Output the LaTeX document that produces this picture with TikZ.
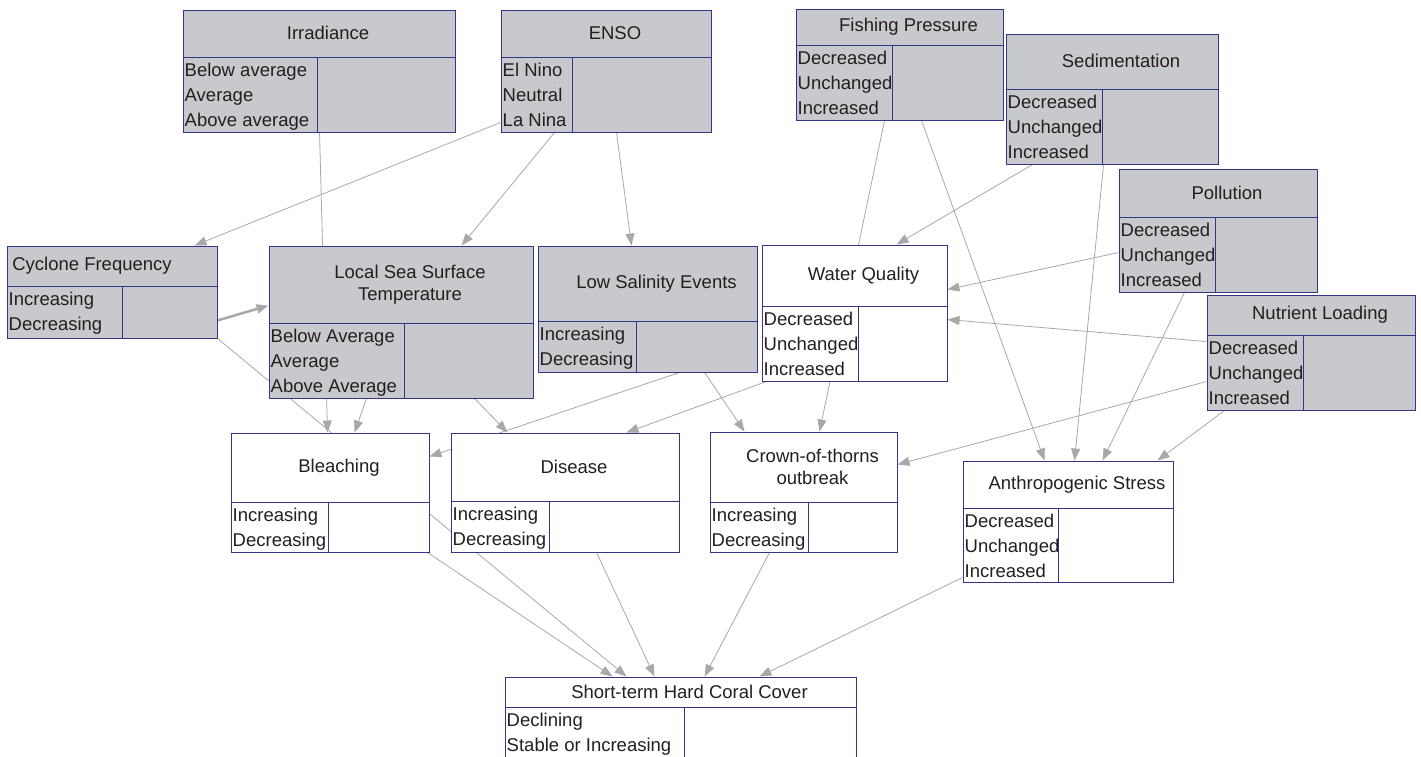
\documentclass[tikz,border=0pt]{standalone}
\usepackage{fontspec}
\setmainfont{Liberation Sans}
\usetikzlibrary{arrows.meta,fit,calc,backgrounds}

\definecolor{boxgray}{RGB}{200,201,204}
\definecolor{boxblue}{RGB}{52,52,136}
\definecolor{linkgray}{RGB}{168,168,170}
\definecolor{textgray}{RGB}{35,31,32}

\tikzset{
  cpt/.style={draw=boxblue, line width=0.95pt, inner sep=0pt},
  cptrule/.style={draw=boxblue, line width=0.95pt},
  cpttitle/.style={text=textgray, align=center, font=\fontsize{18.5}{22}\selectfont},
  cptstates/.style={anchor=north west, align=left, inner xsep=2pt, inner ysep=5.5pt,
    text=textgray, font=\fontsize{18.5}{25}\selectfont},
  link/.style={draw=linkgray, line width=0.8pt, -{Triangle[length=12pt,width=9pt]}},
}

% #2 name, #3 top left, #4 bottom right, #5 header y, #6 divider x, #7 fill, #8 title, #9 states
\newcommand{\cptbox}[9][xshift=9pt]{%
  \node[cpt, fill=#7, fit={#3 #4}] (#2) {};
  \draw[cptrule] (#2.west |- 0,#5) -- (#2.east |- 0,#5);
  \draw[cptrule] (#6,#5) -- (#6,0 |- #2.south);
  \node[cpttitle, #1] (#2-title) at ($(#2.north)!.5!(#2.north |- 0,#5)$) {#8};
  \node[cptstates] (#2-states) at (#2.west |- 0,#5) {#9};
}

\begin{document}
\begin{tikzpicture}[x=1pt, y=-1pt]
  \useasboundingbox (0,0) rectangle (1421,757);

  \cptbox{irr}{(183,10)}{(455,132)}{57}{317}{boxgray}{Irradiance}{Below average\\Average\\Above average}
  \cptbox{enso}{(501,10)}{(711,132)}{57}{572}{boxgray}{ENSO}{El Nino\\Neutral\\La Nina}
  \cptbox{fish}{(796,9)}{(1003,120)}{45}{892}{boxgray}{Fishing Pressure}{Decreased\\Unchanged\\Increased}
  \cptbox{sed}{(1006,34)}{(1218,164)}{89}{1102}{boxgray}{Sedimentation}{Decreased\\Unchanged\\Increased}
  \cptbox{poll}{(1119,169)}{(1317,292)}{217}{1215}{boxgray}{Pollution}{Decreased\\Unchanged\\Increased}
  \cptbox{nutr}{(1207,295)}{(1415,410)}{335}{1303}{boxgray}{Nutrient Loading}{Decreased\\Unchanged\\Increased}
  \cptbox[xshift=-20pt]{cyc}{(7,246)}{(217,338)}{286}{122}{boxgray}{Cyclone Frequency}{Increasing\\Decreasing}
  \cptbox{sst}{(269,246)}{(533,398)}{323}{404}{boxgray}{Local Sea Surface\\Temperature}{Below Average\\Average\\Above Average}
  \cptbox{sal}{(538,246)}{(757,372)}{321}{636}{boxgray}{Low Salinity Events}{Increasing\\Decreasing}
  \cptbox{wq}{(762,245)}{(947,381)}{306}{858}{white}{Water Quality}{Decreased\\Unchanged\\Increased}
  \cptbox{bleach}{(231,433)}{(429,552)}{502}{328}{white}{Bleaching}{Increasing\\Decreasing}
  \cptbox{dis}{(451,433)}{(679,552)}{501}{549}{white}{Disease}{Increasing\\Decreasing}
  \cptbox{cots}{(710,432)}{(897,552)}{502}{808}{white}{Crown-of-thorns\\outbreak}{Increasing\\Decreasing}
  \cptbox{anth}{(963,461)}{(1173,582)}{508}{1058}{white}{Anthropogenic Stress}{Decreased\\Unchanged\\Increased}
  \cptbox{coral}{(505,677)}{(856,775)}{707}{684}{white}{Short-term Hard Coral Cover}{Declining\\Stable or Increasing}

  \begin{scope}[on background layer]
    \draw[link] ([yshift=10pt]enso.south west) -- ([xshift=188pt]cyc.north west);
    \draw[link] ([xshift=137pt]irr.south west) -- ([xshift=97pt]bleach.north west);
    \draw[link] ([xshift=54pt]enso.south west) -- ([xshift=193pt]sst.north west);
    \draw[link] ([xshift=116pt]enso.south west) -- ([xshift=94pt]sal.north west);
    \draw[link, line width=2.5pt] ([yshift=18pt]cyc.south east) -- ([yshift=-60pt]sst.north west);
    \draw[link] (cyc.south east) -- ([xshift=122pt]coral.north west);
    \draw[link] ([xshift=98pt]sst.south west) -- ([xshift=124pt]bleach.north west);
    \draw[link] ([xshift=206pt]sst.south west) -- ([xshift=57pt]dis.north west);
    \draw[link] ([xshift=142pt]sal.south west) -- ([yshift=-24pt]bleach.north east);
    \draw[link] ([xshift=167pt]sal.south west) -- ([xshift=35pt]cots.north west);
    \draw[link] ([xshift=5pt]wq.south west) -- ([xshift=176pt]dis.north west);
    \draw[link] ([xshift=89pt]fish.south west) -- ([xshift=110pt]cots.north west);
    \draw[link] ([xshift=126pt]fish.south west) -- ([xshift=82pt]anth.north west);
    \draw[link] ([xshift=27pt]sed.south west) -- ([xshift=135pt]wq.north west);
    \draw[link] ([xshift=98pt]sed.south west) -- ([xshift=112pt]anth.north west);
    \draw[link] ([yshift=-84pt]poll.north west) -- ([yshift=-45pt]wq.north east);
    \draw[link] ([xshift=66pt]poll.south west) -- ([xshift=140pt]anth.north west);
    \draw[link] ([yshift=-47pt]nutr.north west) -- ([yshift=-75pt]wq.north east);
    \draw[link] ([yshift=-87pt]nutr.north west) -- ([yshift=-33pt]cots.north east);
    \draw[link] ([xshift=18pt]nutr.south west) -- ([xshift=195pt]anth.north west);
    \draw[link] ([xshift=-2pt]bleach.south east) -- ([xshift=108pt]coral.north west);
    \draw[link] ([xshift=146pt]dis.south west) -- ([xshift=150pt]coral.north west);
    \draw[link] ([xshift=60pt]cots.south west) -- ([xshift=200pt]coral.north west);
    \draw[link] ([yshift=5pt]anth.south west) -- ([xshift=255pt]coral.north west);
  \end{scope}
\end{tikzpicture}
\end{document}
